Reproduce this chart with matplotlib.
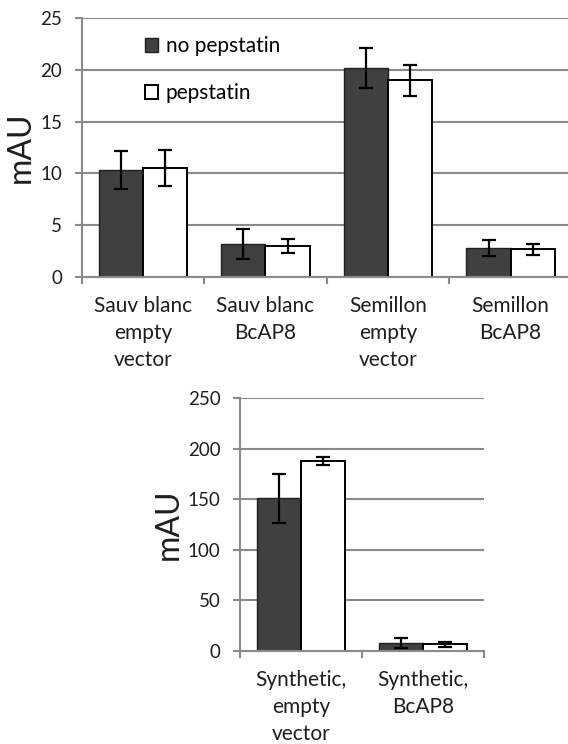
import matplotlib
matplotlib.use("Agg")
import matplotlib.pyplot as plt
import numpy as np

plt.rcParams['font.family'] = ['Lato', 'DejaVu Sans']

# ---- data ----
top_categories = ["Sauv blanc\nempty\nvector", "Sauv blanc\nBcAP8",
                  "Semillon\nempty\nvector", "Semillon\nBcAP8"]
top_no_pep = [10.3, 3.15, 20.2, 2.8]
top_no_pep_err = [1.85, 1.45, 1.9, 0.75]
top_pep = [10.5, 2.95, 19.0, 2.65]
top_pep_err = [1.75, 0.65, 1.5, 0.55]
top_yticks = [0, 5, 10, 15, 20, 25]

bot_categories = ["Synthetic,\nempty\nvector", "Synthetic,\nBcAP8"]
bot_no_pep = [151, 8]
bot_no_pep_err = [24, 5]
bot_pep = [188, 6.5]
bot_pep_err = [4, 2.7]
bot_yticks = [0, 50, 100, 150, 200, 250]

series_labels = ["no pepstatin", "pepstatin"]

DARK = "#404040"
GRID = "#8a8a8a"
TXT = "#1e1e1e"
W = 0.36

fig = plt.figure(figsize=(5.68, 7.44), dpi=100)


def draw(ax, cats, v1, e1, v2, e2, yticks, ylim, legend=False, ylabelpad=8):
    x = np.arange(len(cats))
    ax.set_axisbelow(True)
    b1 = ax.bar(x - W / 2, v1, W, color=DARK, edgecolor="#202020", linewidth=1.0,
                label=series_labels[0], zorder=2)
    b2 = ax.bar(x + W / 2, v2, W, color="white", edgecolor="black", linewidth=1.4,
                label=series_labels[1], zorder=2)
    ax.errorbar(x - W / 2, v1, yerr=e1, fmt="none", ecolor="black",
                elinewidth=1.6, capsize=5, capthick=1.6, zorder=3)
    ax.errorbar(x + W / 2, v2, yerr=e2, fmt="none", ecolor="black",
                elinewidth=1.6, capsize=5, capthick=1.6, zorder=3)
    ax.set_xlim(-0.5, len(cats) - 0.5)
    ax.set_ylim(*ylim)
    ax.set_yticks(yticks)
    ax.set_yticklabels([str(t) for t in yticks], fontsize=13.5, color=TXT)
    ax.yaxis.grid(True, color=GRID, linewidth=1.5)
    ax.set_xticks(x)
    ax.set_xticklabels(cats, fontsize=15, color=TXT, linespacing=1.42)
    ax.tick_params(axis="x", length=0, pad=14)
    ax.set_xticks(np.arange(len(cats) + 1) - 0.5, minor=True)
    ax.tick_params(axis="x", which="minor", length=5, width=1.5, color=GRID,
                   direction="out")
    ax.tick_params(axis="y", length=5, width=1.5, color=GRID, pad=9)
    for s in ["top", "right"]:
        ax.spines[s].set_visible(False)
    for s in ["left", "bottom"]:
        ax.spines[s].set_color(GRID)
        ax.spines[s].set_linewidth(1.5)
    ax.set_ylabel("mAU", fontsize=23, color=TXT, labelpad=ylabelpad)
    if legend:
        ax.legend(handles=[b1, b2], loc="upper left",
                  bbox_to_anchor=(0.13, 0.931), frameon=False, fontsize=15,
                  handlelength=0.62, handleheight=0.62, handletextpad=0.35,
                  labelspacing=1.31, borderpad=0, borderaxespad=0)


ax1 = fig.add_axes([0.1438, 0.6281, 0.863, 0.3473])
draw(ax1, top_categories, top_no_pep, top_no_pep_err, top_pep, top_pep_err,
     top_yticks, (0, 25), legend=True, ylabelpad=3)

ax2 = fig.add_axes([0.4225, 0.125, 0.4296, 0.3397])
draw(ax2, bot_categories, bot_no_pep, bot_no_pep_err, bot_pep, bot_pep_err,
     bot_yticks, (0, 250), ylabelpad=3)

fig.savefig("out.png", dpi=100)
